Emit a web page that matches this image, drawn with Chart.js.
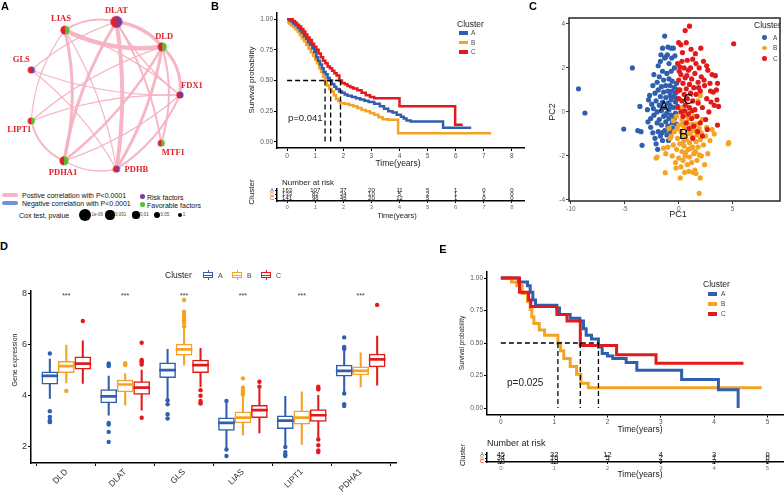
<!DOCTYPE html>
<html>
<head>
<meta charset="utf-8">
<script src="https://cdn.jsdelivr.net/npm/chart.js@4.4.1/dist/chart.umd.min.js"></script>
<style>
  body { margin: 0; background: #fff; }
  #page { position: relative; width: 784px; height: 494px; overflow: hidden; font-family: "Liberation Sans", Arial, sans-serif; color: #111; }
  #page canvas { position: absolute; }
  .t { position: absolute; white-space: nowrap; line-height: 1; }
  .sw { position: absolute; }
</style>
</head>
<body>
<div id="page">
  <canvas id="net" width="215" height="190" style="left:0;top:0"></canvas>
  <canvas id="kmB" width="300" height="175" style="left:230px;top:0"></canvas>
  <canvas id="riskB" width="300" height="27" style="left:230px;top:184px"></canvas>
  <canvas id="pca" width="254" height="230" style="left:530px;top:0"></canvas>
  <canvas id="box" width="400" height="239" style="left:0;top:255px"></canvas>
  <canvas id="kmE" width="344" height="180" style="left:440px;top:255px"></canvas>
  <canvas id="riskE" width="344" height="23" style="left:440px;top:448px"></canvas>
</div>
<script>
// ---------------- data ----------------
const clusters = ['A', 'B', 'C'];

// A: correlation network of cuproptosis genes
const netGenes = ['DLAT', 'LIAS', 'DLD', 'GLS', 'FDX1', 'LIPT1', 'MTF1', 'PDHA1', 'PDHB'];
const netX = [117, 62, 166, 26, 185, 26, 165, 61, 117];
const netY = [16, 25, 43, 68, 95, 123, 147, 166, 175];
const netCoxP = [1e-6, 0.001, 0.001, 0.01, 0.01, 0.01, 0.01, 0.001, 0.01];
const netRole = ['risk', 'fav', 'fav', 'risk', 'risk', 'fav', 'fav', 'fav', 'risk'];
// [from, to, correlation strength]
const netEdges = [
  ['DLAT', 'DLD', 3.5], ['LIAS', 'DLAT', 2], ['LIAS', 'DLD', 4.5], ['DLD', 'FDX1', 3],
  ['DLAT', 'PDHB', 4], ['DLAT', 'PDHA1', 3], ['LIAS', 'PDHA1', 3], ['DLD', 'PDHB', 3],
  ['DLD', 'PDHA1', 2.5], ['DLD', 'LIPT1', 1.4], ['DLD', 'MTF1', 2], ['DLAT', 'MTF1', 2],
  ['DLAT', 'FDX1', 1.4], ['DLAT', 'GLS', 1.2], ['GLS', 'FDX1', 1.2], ['GLS', 'PDHB', 1.2],
  ['LIAS', 'LIPT1', 1.2], ['LIAS', 'PDHB', 1.2], ['LIAS', 'FDX1', 1.2], ['LIPT1', 'FDX1', 1.2],
  ['PDHA1', 'LIPT1', 2], ['PDHA1', 'FDX1', 1.4], ['PDHB', 'FDX1', 2], ['PDHB', 'PDHA1', 1.4]
];
const coxLegendP = ['1e-06', '0.001', '0.01', '0.05', '1'];

// B: survival by cluster (time in years, survival probability)
const survB_A = [[0,1],[0.08,0.99],[0.15,0.98],[0.22,0.965],[0.3,0.95],[0.38,0.93],[0.45,0.91],[0.52,0.89],[0.6,0.86],[0.68,0.84],[0.75,0.81],[0.82,0.79],[0.9,0.76],[0.97,0.73],[1.04,0.69],[1.1,0.66],[1.17,0.63],[1.24,0.6],[1.3,0.57],[1.37,0.55],[1.44,0.52],[1.52,0.5],[1.6,0.47],[1.68,0.45],[1.75,0.43],[1.85,0.41],[1.95,0.4],[2.05,0.385],[2.15,0.375],[2.3,0.365],[2.45,0.355],[2.6,0.345],[2.75,0.335],[2.9,0.325],[3.1,0.31],[3.3,0.29],[3.45,0.27],[3.6,0.25],[3.75,0.24],[3.9,0.22],[4.05,0.205],[4.15,0.19],[4.25,0.175],[4.4,0.165],[5.55,0.115],[6.55,0.115]];
const survB_B = [[0,0.975],[0.07,0.965],[0.14,0.95],[0.22,0.935],[0.3,0.915],[0.38,0.895],[0.45,0.87],[0.52,0.845],[0.6,0.82],[0.68,0.79],[0.76,0.76],[0.84,0.73],[0.92,0.7],[1.0,0.67],[1.07,0.64],[1.14,0.6],[1.21,0.57],[1.28,0.53],[1.35,0.5],[1.42,0.46],[1.5,0.43],[1.58,0.41],[1.66,0.38],[1.74,0.35],[1.82,0.33],[1.9,0.315],[2.05,0.31],[2.2,0.3],[2.35,0.29],[2.5,0.275],[2.65,0.26],[2.8,0.25],[2.95,0.235],[3.1,0.22],[3.25,0.2],[3.4,0.185],[3.6,0.18],[3.95,0.07],[7.26,0.07]];
const survB_C = [[0,1],[0.2,0.985],[0.28,0.97],[0.35,0.955],[0.42,0.94],[0.5,0.92],[0.58,0.9],[0.65,0.875],[0.72,0.85],[0.8,0.83],[0.88,0.8],[0.96,0.775],[1.04,0.75],[1.12,0.72],[1.2,0.69],[1.28,0.66],[1.36,0.64],[1.44,0.615],[1.52,0.6],[1.6,0.58],[1.68,0.56],[1.76,0.54],[1.86,0.5],[1.95,0.48],[2.05,0.47],[2.15,0.455],[2.25,0.445],[2.35,0.435],[2.5,0.42],[2.65,0.4],[2.8,0.38],[2.95,0.365],[3.1,0.355],[4.0,0.29],[5.98,0.14],[6.25,0.14]];
const medianB = [1.55, 1.35, 1.9];
const pValueB = 'p=0.041';
const timeTicksB = [0, 1, 2, 3, 4, 5, 6, 7, 8];
const riskB_A = [163, 107, 37, 20, 11, 5, 1, 0, 0];
const riskB_B = [133, 82, 24, 10, 5, 2, 1, 1, 0];
const riskB_C = [141, 96, 45, 20, 12, 5, 1, 0, 0];

// C: PCA scores
const pcaA = [[-9.3,1.05],[-8.7,-0.05],[-5.1,-0.78],[-4.3,2.0],[-3.8,-0.85],[-3.5,-0.9],[-3.4,-1.52],[-3.6,0.25],[-2.9,0.1],[-2.8,0.55],[-2.7,0.75],[-2.6,-0.3],[-2.6,-0.7],[-2.5,0.35],[-2.4,1.2],[-2.3,1.7],[-2.3,-0.15],[-2.2,0.85],[-2.2,-1.2],[-2.1,-1.45],[-2.1,0.5],[-2.0,1.35],[-2.0,-0.5],[-2.0,0.0],[-1.9,1.0],[-1.9,-0.9],[-1.9,2.1],[-1.8,0.3],[-1.8,-0.35],[-1.8,1.6],[-1.7,-1.1],[-1.7,0.7],[-1.7,2.3],[-1.6,0.05],[-1.6,-0.6],[-1.6,1.15],[-1.5,2.9],[-1.5,-1.3],[-1.5,0.45],[-1.5,1.85],[-1.4,-0.2],[-1.4,0.9],[-1.4,1.45],[-1.3,3.45],[-1.3,2.45],[-1.3,-0.85],[-1.3,0.2],[-1.2,2.5],[-1.2,0.65],[-1.2,-0.45],[-1.2,1.2],[-1.1,1.75],[-1.1,-0.05],[-1.1,-1.05],[-1.0,2.95],[-1.0,0.4],[-1.0,0.95],[-1.0,-0.65],[-0.9,1.5],[-0.9,0.1],[-0.9,-0.3],[-0.9,2.2],[-0.8,0.75],[-0.8,-0.9],[-0.8,1.2],[-0.8,0.3],[-0.7,2.9],[-0.7,-0.15],[-0.7,1.85],[-0.7,0.55],[-0.6,0.95],[-0.6,-0.5],[-0.6,1.4],[-0.5,2.9],[-0.5,0.2],[-0.5,0.7],[-0.5,-0.75],[-0.4,1.1],[-0.4,-0.3],[-0.4,2.0],[-0.3,0.45],[-0.3,0.85],[-0.3,-0.05],[-0.2,1.3],[-0.2,0.6],[-0.2,-0.55],[-0.1,0.25],[-0.1,1.0],[-2.4,-0.95],[-1.95,-1.7],[-1.25,-0.15],[-2.85,-0.45],[-0.95,-1.3],[-1.55,-0.95],[-2.35,0.15],[-0.65,2.45],[-1.05,2.6],[-1.65,2.6],[-0.35,2.55]];
const pcaB = [[4.6,-1.45],[4.65,-1.4],[1.9,-3.7],[2.0,-3.0],[1.5,-2.65],[1.6,-2.8],[0.55,-2.75],[-1.25,-2.76],[-2.1,-2.1],[-2.0,-2.05],[-1.4,-1.65],[-1.2,-1.9],[-1.0,-1.6],[-0.8,-1.2],[-0.6,-2.0],[-0.5,-1.5],[-0.4,-0.9],[-0.3,-2.3],[-0.2,-1.7],[-0.1,-1.2],[0.0,-0.6],[0.0,-2.1],[0.1,-1.45],[0.2,-0.9],[0.2,-2.5],[0.3,-1.8],[0.3,-0.35],[0.4,-1.1],[0.4,-2.2],[0.5,-0.7],[0.5,-1.55],[0.6,-0.15],[0.6,-2.0],[0.7,-1.25],[0.7,-0.5],[0.8,-2.4],[0.8,-0.95],[0.9,-1.7],[0.9,-0.3],[1.0,-1.4],[1.0,-2.05],[1.1,-0.8],[1.1,-1.0],[1.2,-2.3],[1.2,-0.55],[1.3,-1.6],[1.3,-1.15],[1.4,-0.2],[1.4,-1.9],[1.5,-0.85],[1.6,-1.35],[1.6,-0.55],[1.7,-2.2],[1.7,-1.05],[1.8,-1.6],[1.9,-0.75],[1.9,-1.95],[2.0,-1.25],[2.1,-2.0],[2.1,-0.95],[2.2,-0.35],[2.3,-1.5],[2.5,-1.1],[2.6,-0.7],[2.9,-1.3],[3.1,-0.8],[3.3,-1.0],[1.0,0.05],[0.2,0.2],[-0.5,-0.4],[-0.2,-0.2],[0.7,0.3],[1.8,0.5],[2.0,0.75],[-0.9,-0.75],[-0.7,-1.1],[0.15,-3.0],[-0.25,-2.55],[1.35,-2.75],[0.95,-2.7],[0.45,-1.35],[1.55,-1.8],[-0.15,-0.75],[0.65,-1.85],[2.4,-2.4],[2.7,-1.9],[1.15,-1.65],[0.35,-0.55]];
const pcaC = [[5.1,3.1],[1.0,3.9],[0.6,3.7],[0.0,3.15],[0.2,3.05],[0.7,3.15],[3.6,-0.6],[3.7,0.25],[3.55,0.55],[3.5,1.0],[3.4,1.65],[3.2,0.9],[3.0,0.45],[2.9,1.3],[2.8,0.0],[2.7,1.9],[2.6,0.6],[2.5,-0.35],[2.4,1.2],[2.3,2.3],[2.2,0.2],[2.1,1.6],[2.0,-0.5],[2.0,0.95],[1.9,2.0],[1.8,0.4],[1.8,1.35],[1.7,-0.2],[1.6,2.2],[1.6,0.8],[1.5,1.75],[1.5,0.1],[1.4,-0.65],[1.4,1.1],[1.3,2.4],[1.3,0.5],[1.2,1.5],[1.2,-0.3],[1.1,0.85],[1.1,2.0],[1.0,0.2],[1.0,1.25],[0.9,-0.1],[0.9,1.9],[0.8,0.6],[0.8,2.35],[0.7,1.05],[0.7,-0.5],[0.6,1.55],[0.6,0.3],[0.5,2.0],[0.5,0.8],[0.4,-0.2],[0.4,1.3],[0.3,2.3],[0.3,0.5],[0.2,1.7],[0.2,0.0],[0.1,1.0],[0.1,2.05],[0.0,0.6],[0.0,1.45],[-0.1,2.2],[-0.1,0.2],[0.05,1.85],[1.75,-0.9],[2.2,-1.1],[1.3,-1.2],[0.95,-0.75],[2.65,-0.8],[1.55,2.65],[2.05,2.9],[0.35,2.7],[1.15,2.85],[2.95,0.95],[2.35,1.45],[3.1,1.7],[3.6,1.3],[0.55,0.05],[1.85,1.1],[1.25,0.05],[2.6,2.1],[-0.05,0.95],[0.75,1.65],[3.3,0.3]];
const pcaLabelX = [-1.37, 0.46, 0.9];
const pcaLabelY = [0.23, -1.05, 0.55];

// D: gene expression boxplots, per gene [lower whisker, Q1, median, Q3, upper whisker]
const genes = ['DLD', 'DLAT', 'GLS', 'LIAS', 'LIPT1', 'PDHA1'];
const boxA = [[3.9,4.45,4.78,4.94,5.43],[3.24,3.72,3.98,4.24,4.77],[3.85,4.71,5.0,5.29,5.81],[1.94,2.65,2.94,3.14,3.72],[2.07,2.72,3.03,3.22,3.98],[4.15,4.77,4.97,5.2,5.78]];
const boxB = [[4.5,4.9,5.16,5.35,5.98],[3.63,4.15,4.44,4.61,4.87],[5.2,5.59,5.81,6.02,6.65],[2.46,2.94,3.15,3.37,3.98],[2.1,2.89,3.15,3.41,4.15],[4.35,4.81,4.97,5.13,5.68]];
const boxC = [[4.48,5.04,5.26,5.52,6.15],[3.44,4.05,4.32,4.55,5.0],[4.35,4.9,5.2,5.39,5.85],[2.55,3.15,3.44,3.63,4.25],[2.33,3.0,3.24,3.46,4.02],[4.41,5.13,5.42,5.63,6.33]];
const outA = [[5.65,3.4,3.17,3.04,2.97],[5.26,5.2,5.16,2.94,2.88,2.59,2.2],[3.83,3.67,3.28,3.11],[3.8,1.9,1.65],[2.0,1.8,1.7,1.65],[6.28,5.91,5.87,5.83,4.09,3.67,3.6]];
const outB = [[4.19],[5.27,5.22,5.2],[7.74,7.28,7.2,7.1,7.02,6.95,6.85,6.72],[4.68,4.32,4.22,4.12,4.05],[],[]];
const outC = [[6.92],[6.07,5.4,5.35,5.3,5.22,3.14],[4.22,4.0,3.8,3.72,3.7],[4.55,4.35],[4.35,4.28,4.25,2.29,2.07,1.87,1.8],[7.55]];
const signif = ['***', '***', '***', '***', '***', '***'];

// E: validation cohort survival
const survE_A = [[0,1],[0.33,0.97],[0.5,0.94],[0.55,0.89],[0.6,0.83],[0.65,0.79],[1.05,0.77],[1.1,0.72],[1.3,0.69],[1.48,0.67],[1.55,0.61],[1.6,0.56],[1.7,0.53],[1.83,0.47],[1.9,0.42],[2.0,0.4],[2.1,0.38],[2.35,0.35],[2.55,0.29],[3.39,0.22],[4.08,0.14],[4.45,0.0]];
const survE_B = [[0,1],[0.2,0.97],[0.3,0.94],[0.4,0.88],[0.5,0.82],[0.55,0.76],[0.58,0.7],[0.62,0.65],[0.72,0.6],[0.82,0.56],[1.07,0.5],[1.12,0.44],[1.18,0.38],[1.3,0.32],[1.42,0.26],[1.5,0.19],[1.64,0.155],[4.89,0.155]];
const survE_C = [[0,1],[0.35,0.89],[0.52,0.83],[0.56,0.78],[1.05,0.72],[1.24,0.67],[1.49,0.48],[2.17,0.41],[2.91,0.345],[4.55,0.345]];
const medianE = [1.83, 1.07, 1.49];
const pValueE = 'p=0.025';
const timeTicksE = [0, 1, 2, 3, 4, 5];
const riskE_A = [45, 32, 12, 4, 3, 0];
const riskE_B = [34, 16, 5, 2, 1, 0];
const riskE_C = [18, 13, 7, 4, 2, 0];

// ---------------- style ----------------
const clusterColors = ['#2f5fae', '#f4a324', '#e31a1c'];
const nodeRed = '#e0202a', riskColor = '#7d3c98', favColor = '#5dba2f';
const edgeColor = 'rgba(245,178,195,0.95)';

Chart.defaults.font.family = '"Liberation Sans", Arial, sans-serif';
Chart.defaults.animation = false;
Chart.defaults.responsive = false;
Chart.defaults.plugins.legend.display = false;
Chart.defaults.plugins.tooltip.enabled = false;

const page = document.getElementById('page');
function T(text, x, y, o) {
  o = o || {};
  const d = document.createElement('div');
  d.className = 't';
  d.textContent = text;
  d.style.left = x + 'px';
  d.style.top = y + 'px';
  d.style.fontSize = (o.size || 8) + 'px';
  if (o.bold) d.style.fontWeight = 'bold';
  if (o.color) d.style.color = o.color;
  if (o.family) d.style.fontFamily = o.family;
  const tx = o.anchor === 'l' ? '0' : o.anchor === 'r' ? '-100%' : '-50%';
  d.style.transform = 'translate(' + tx + ',-50%)' + (o.rot ? ' rotate(' + o.rot + 'deg)' : '');
  page.appendChild(d);
  return d;
}
function box(x, y, w, h, css) {
  const d = document.createElement('div');
  d.className = 'sw';
  d.style.left = x + 'px'; d.style.top = y + 'px';
  d.style.width = w + 'px'; d.style.height = h + 'px';
  Object.assign(d.style, css || {});
  page.appendChild(d);
  return d;
}

function axis(o) {
  return {
    type: 'linear', min: o.min, max: o.max, reverse: !!o.reverse,
    afterBuildTicks: s => { s.ticks = o.ticks.map(v => ({ value: v })); },
    afterFit: s => { if (o.w != null) s.width = o.w; if (o.h != null) s.height = o.h; },
    ticks: {
      autoSkip: false, maxRotation: o.rot || 0, minRotation: o.rot || 0,
      padding: o.pad != null ? o.pad : 1, color: o.color || '#555',
      font: { size: o.size || 7 }, callback: o.fmt || (v => v)
    },
    grid: { display: true, drawOnChartArea: false, drawTicks: true, tickLength: o.tl != null ? o.tl : 3, color: o.gridColor || '#000', lineWidth: 1 },
    border: { display: o.border !== false, color: '#000', width: 1.5 }
  };
}

// ---------------- A: network ----------------
function coxRadius(p) { return p <= 1e-6 ? 6 : p <= 0.001 ? 4.6 : p <= 0.01 ? 3.6 : p <= 0.05 ? 3 : 2.3; }
function halfDisc(r, right) {
  const c = document.createElement('canvas');
  const s = Math.ceil(2 * r + 2);
  c.width = c.height = s;
  const g = c.getContext('2d');
  const m = s / 2;
  g.fillStyle = nodeRed;
  g.beginPath(); g.moveTo(m, m); g.arc(m, m, r, Math.PI / 2, Math.PI * 1.5); g.fill();
  g.fillStyle = right;
  g.beginPath(); g.moveTo(m, m); g.arc(m, m, r, -Math.PI / 2, Math.PI / 2); g.fill();
  return c;
}
const edgeBend = [-0.2, -0.22, 0.15, -0.25, -0.08, 0.1, -0.12, -0.1, -0.1, 0.1, -0.15, -0.1,
                  0.1, 0.1, 0.1, -0.1, 0.15, -0.1, -0.1, -0.1, -0.25, 0.1, 0.15, -0.2];
const labelOffset = [[0, -11], [-4, -11], [2, -10], [-10, -10], [12, -9], [-12, 9], [12, 10], [-1, 12], [20, 1]];

new Chart(document.getElementById('net'), {
  type: 'scatter',
  data: { datasets: [{
    data: netGenes.map((g, i) => ({ x: netX[i], y: netY[i] })),
    pointStyle: netGenes.map((g, i) => halfDisc(coxRadius(netCoxP[i]), netRole[i] === 'risk' ? riskColor : favColor)),
    pointRadius: netCoxP.map(coxRadius)
  }] },
  options: {
    layout: { padding: 0 },
    scales: {
      x: { type: 'linear', display: false, min: 0, max: 215 },
      y: { type: 'linear', display: false, min: 0, max: 190, reverse: true }
    }
  },
  plugins: [{
    id: 'edges',
    beforeDatasetsDraw(chart) {
      const ctx = chart.ctx, xs = chart.scales.x, ys = chart.scales.y;
      ctx.save();
      ctx.strokeStyle = edgeColor;
      ctx.lineCap = 'round';
      netEdges.forEach((e, k) => {
        const a = netGenes.indexOf(e[0]), b = netGenes.indexOf(e[1]);
        const x1 = xs.getPixelForValue(netX[a]), y1 = ys.getPixelForValue(netY[a]);
        const x2 = xs.getPixelForValue(netX[b]), y2 = ys.getPixelForValue(netY[b]);
        const c = edgeBend[k];
        const cx = (x1 + x2) / 2 - (y2 - y1) * c, cy = (y1 + y2) / 2 + (x2 - x1) * c;
        ctx.lineWidth = e[2];
        ctx.beginPath(); ctx.moveTo(x1, y1); ctx.quadraticCurveTo(cx, cy, x2, y2); ctx.stroke();
      });
      ctx.restore();
    },
    afterDatasetsDraw(chart) {
      const ctx = chart.ctx, pts = chart.getDatasetMeta(0).data;
      ctx.save();
      ctx.font = 'bold 8.5px "Liberation Serif", "Times New Roman", serif';
      ctx.fillStyle = nodeRed;
      ctx.textAlign = 'center'; ctx.textBaseline = 'middle';
      pts.forEach((p, i) => ctx.fillText(netGenes[i], p.x + labelOffset[i][0], p.y + labelOffset[i][1]));
      ctx.restore();
    }
  }]
});

// network legend
box(2, 193, 16, 4, { background: '#f5b5c5', borderRadius: '2px' });
box(2, 201, 16, 4, { background: '#6f95d2', borderRadius: '2px' });
T('Postive correlation with P<0.0001', 22, 195, { anchor: 'l', size: 7 });
T('Negative correlation with P<0.0001', 22, 203, { anchor: 'l', size: 7 });
box(140, 194, 4.5, 4.5, { background: riskColor, borderRadius: '50%' });
box(140, 202, 4.5, 4.5, { background: favColor, borderRadius: '50%' });
T('Risk factors', 147, 196.5, { anchor: 'l', size: 7 });
T('Favorable factors', 147, 204.5, { anchor: 'l', size: 7 });
T('Cox test, pvalue', 19, 215, { anchor: 'l', size: 7 });
[85, 110, 136, 157, 180].forEach((cx, i) => {
  const r = coxRadius(parseFloat(coxLegendP[i]));
  box(cx - r, 215 - r, 2 * r, 2 * r, { background: '#000', borderRadius: '50%' });
  T(coxLegendP[i], cx + r + 0.5, 215, { anchor: 'l', size: 4.5, color: '#444' });
});

// ---------------- KM charts ----------------
function kmChart(id, series, medians, o) {
  const ds = series.map((s, i) => ({
    type: 'line', data: s.map(p => ({ x: p[0], y: p[1] })),
    stepped: true, borderColor: clusterColors[i], borderWidth: o.lw,
    pointRadius: 0, fill: false, order: [2, 3, 1][i]
  }));
  const top = Math.max(...medians);
  const dash = { type: 'line', borderColor: '#000', borderWidth: 1.3, borderDash: [5, 3], pointRadius: 0, fill: false, order: 0 };
  ds.push(Object.assign({}, dash, { data: [{ x: 0, y: 0.5 }, { x: top, y: 0.5 }] }));
  medians.forEach(m => ds.push(Object.assign({}, dash, { data: [{ x: m, y: 0.5 }, { x: m, y: 0 }] })));
  return new Chart(document.getElementById(id), {
    type: 'line',
    data: { datasets: ds },
    options: {
      layout: { padding: { top: o.top, right: o.right, left: 0, bottom: 0 } },
      scales: {
        x: axis({ min: o.xmin, max: o.xmax, ticks: o.xticks, h: o.xh, size: 6.5 }),
        y: axis({ min: -0.05, max: 1.05, ticks: [0, 0.25, 0.5, 0.75, 1], w: o.yw, size: 6.5, fmt: v => v.toFixed(2) })
      }
    }
  });
}

function riskChart(id, rows, times, o) {
  const ds = rows.map((r, i) => ({
    type: 'scatter', data: r.map((n, k) => ({ x: times[k], y: i + 1 })),
    counts: r, pointRadius: 0
  }));
  return new Chart(document.getElementById(id), {
    type: 'scatter',
    data: { datasets: ds },
    options: {
      layout: { padding: { top: o.top, right: o.right, left: 0, bottom: 0 } },
      scales: {
        x: axis({ min: o.xmin, max: o.xmax, ticks: times, h: o.xh, size: 6, color: '#777', tl: 2 }),
        y: axis({ min: o.ymin, max: o.ymax, reverse: true, ticks: [1, 2, 3], w: o.yw, size: 5.5, tl: 2,
                  fmt: v => clusters[v - 1], color: c => clusterColors[c.index] })
      }
    },
    plugins: [{
      id: 'riskText',
      afterDatasetsDraw(chart) {
        const ctx = chart.ctx;
        ctx.save();
        ctx.font = o.font + 'px "Liberation Sans", Arial, sans-serif';
        ctx.fillStyle = '#111';
        ctx.textAlign = 'center'; ctx.textBaseline = 'middle';
        chart.data.datasets.forEach((d, i) => {
          chart.getDatasetMeta(i).data.forEach((p, k) => ctx.fillText(String(d.counts[k]), p.x, p.y));
        });
        ctx.restore();
      }
    }]
  });
}

// B
kmChart('kmB', [survB_A, survB_B, survB_C], medianB,
  { lw: 2.5, xmin: -0.36, xmax: 8.43, xticks: timeTicksB, top: 13, right: 6, xh: 27, yw: 47 });
riskChart('riskB', [riskB_A, riskB_B, riskB_C], timeTicksB,
  { xmin: -0.36, xmax: 8.43, top: 2, right: 6, xh: 10, yw: 47, ymin: 0.45, ymax: 3.75, font: 6 });
T('B', 215, 6, { bold: true, size: 11, color: '#000' });
T('Survival probability', 252, 80, { rot: -90, size: 8, color: '#222' });
T('Time(years)', 398, 163, { size: 8.5, color: '#222' });
T(pValueB, 288, 118, { anchor: 'l', size: 9.5, color: '#222' });
T('Cluster', 457, 24, { anchor: 'l', size: 8.5, color: '#222' });
clusters.forEach((c, i) => {
  box(459, 31 + i * 9.7, 9, 3.5, { background: clusterColors[i] });
  T(c, 471, 33 + i * 9.7, { anchor: 'l', size: 6.5, color: '#444' });
});
T('Number at risk', 282, 183, { anchor: 'l', size: 8, color: '#222' });
T('Cluster', 252, 192, { rot: -90, size: 8, color: '#222' });
T('Time(years)', 397, 216, { size: 7.5, color: '#222' });

// E
kmChart('kmE', [survE_A, survE_B, survE_C], medianE,
  { lw: 3, xmin: -0.26, xmax: 5.31, xticks: timeTicksE, top: 16.5, right: 0, xh: 20.5, yw: 47 });
riskChart('riskE', [riskE_A, riskE_B, riskE_C], timeTicksE,
  { xmin: -0.26, xmax: 5.31, top: 3, right: 0, xh: 9, yw: 47, ymin: 0.375, ymax: 3.125, font: 7.5 });
T('E', 443, 249, { bold: true, size: 11, color: '#000' });
T('Survival probability', 462, 343, { rot: -90, size: 6.5, color: '#222' });
T('Time(years)', 640, 429, { size: 8.5, color: '#222' });
T(pValueE, 507, 383, { anchor: 'l', size: 10, color: '#222' });
T('Cluster', 703, 284, { anchor: 'l', size: 8.5, color: '#222' });
clusters.forEach((c, i) => {
  box(708, 292 + i * 10, 9, 3.5, { background: clusterColors[i] });
  T(c, 721, 294 + i * 10, { anchor: 'l', size: 6.5, color: '#444' });
});
T('Number at risk', 487, 443, { anchor: 'l', size: 9, color: '#222' });
T('Cluster', 462, 455, { rot: -90, size: 7, color: '#222' });
T('Time(years)', 640, 474, { size: 8.5, color: '#222' });

// ---------------- C: PCA ----------------
new Chart(document.getElementById('pca'), {
  type: 'scatter',
  data: { datasets: [pcaA, pcaB, pcaC].map((pts, i) => ({
    data: pts.map(p => ({ x: p[0], y: p[1] })),
    backgroundColor: clusterColors[i], borderWidth: 0, pointRadius: 2.6, order: 3 - i
  })) },
  options: {
    layout: { padding: { top: 18, right: 1, left: 0, bottom: 0 } },
    scales: {
      x: axis({ min: -10.18, max: 9.4, ticks: [-10, -5, 0, 5], h: 29, size: 6.5, color: '#666', border: false, gridColor: '#333' }),
      y: axis({ min: -4.05, max: 4.27, ticks: [-4, -2, 0, 2, 4], w: 39, size: 6.5, color: '#666', border: false, gridColor: '#333' })
    }
  },
  plugins: [{
    id: 'frame',
    afterDatasetsDraw(chart) {
      const ctx = chart.ctx, a = chart.chartArea, xs = chart.scales.x, ys = chart.scales.y;
      ctx.save();
      ctx.font = '14px "Liberation Sans", Arial, sans-serif';
      ctx.fillStyle = '#000';
      ctx.textAlign = 'center'; ctx.textBaseline = 'middle';
      clusters.forEach((c, i) => ctx.fillText(c, xs.getPixelForValue(pcaLabelX[i]), ys.getPixelForValue(pcaLabelY[i])));
      ctx.strokeStyle = '#333'; ctx.lineWidth = 1.6;
      ctx.strokeRect(a.left, a.top, a.right - a.left, a.bottom - a.top);
      ctx.restore();
    }
  }]
});
T('C', 533, 6, { bold: true, size: 11, color: '#000' });
T('PC1', 678, 214, { size: 9, color: '#222' });
T('PC2', 552, 112, { rot: -90, size: 9, color: '#222' });
T('Cluster', 754, 25, { anchor: 'l', size: 8.5, color: '#222' });
clusters.forEach((c, i) => {
  box(762, 35 + i * 10.5, 4.5, 4.5, { background: clusterColors[i], borderRadius: '50%' });
  T(c, 773, 37.5 + i * 10.5, { anchor: 'l', size: 6.5, color: '#444' });
});

// ---------------- D: boxplots ----------------
const dodge = [-0.28, 0, 0.28];
const boxDatasets = [];
[boxA, boxB, boxC].forEach((st, ci) => {
  const col = clusterColors[ci];
  const xs = genes.map((g, gi) => gi + 1 + dodge[ci]);
  boxDatasets.push({ type: 'bar', data: st.map((s, gi) => ({ x: xs[gi], y: [s[0], s[4]] })),
    backgroundColor: col, barThickness: 1.4, grouped: false, order: 30 });
  boxDatasets.push({ type: 'bar', data: st.map((s, gi) => ({ x: xs[gi], y: [s[1], s[3]] })),
    backgroundColor: '#fff', borderColor: col, borderWidth: 1.5, borderSkipped: false, barThickness: 16, grouped: false, order: 20 });
  boxDatasets.push({ type: 'bar', data: st.map((s, gi) => ({ x: xs[gi], y: [s[2] - 0.04, s[2] + 0.04] })),
    backgroundColor: col, barThickness: 16, grouped: false, order: 10 });
  const outs = [outA, outB, outC][ci];
  boxDatasets.push({ type: 'scatter', data: outs.flatMap((arr, gi) => arr.map(v => ({ x: xs[gi], y: v }))),
    backgroundColor: col, borderWidth: 0, pointRadius: 2.2, order: 5 });
});
new Chart(document.getElementById('box'), {
  type: 'bar',
  data: { datasets: boxDatasets },
  options: {
    layout: { padding: { top: 35.8, right: 2, left: 0, bottom: 0 } },
    scales: {
      x: Object.assign(axis({ min: 0.4, max: 6.6, ticks: [1, 2, 3, 4, 5, 6], h: 31, size: 8.5, color: '#333', rot: 45, fmt: v => genes[v - 1] }), { offset: false }),
      y: axis({ min: 1.375, max: 8.1, ticks: [2, 4, 6, 8], w: 31, size: 9, color: '#333' })
    }
  },
  plugins: [{
    id: 'signif',
    afterDatasetsDraw(chart) {
      const ctx = chart.ctx, xs = chart.scales.x, ys = chart.scales.y;
      ctx.save();
      ctx.font = '7px "Liberation Sans", Arial, sans-serif';
      ctx.fillStyle = '#333';
      ctx.textAlign = 'center'; ctx.textBaseline = 'middle';
      signif.forEach((s, i) => ctx.fillText(s, xs.getPixelForValue(i + 1), ys.getPixelForValue(7.9)));
      ctx.restore();
    }
  }]
});
T('D', 4, 246, { bold: true, size: 11, color: '#000' });
T('Gene expression', 14, 360, { rot: -90, size: 7, color: '#222' });
T('Cluster', 165, 275, { anchor: 'l', size: 8.5, color: '#222' });
[203, 232, 261].forEach((x, i) => {
  box(x + 4.5, 270, 1.2, 10, { background: clusterColors[i] });
  box(x, 272, 10, 6, { background: '#fff', border: '1.3px solid ' + clusterColors[i], boxSizing: 'border-box' });
  box(x, 274.5, 10, 1.3, { background: clusterColors[i] });
  T(clusters[i], x + 15, 275, { anchor: 'l', size: 7, color: '#444' });
});
T('A', 5, 6, { bold: true, size: 11, color: '#000' });
</script>
</body>
</html>
